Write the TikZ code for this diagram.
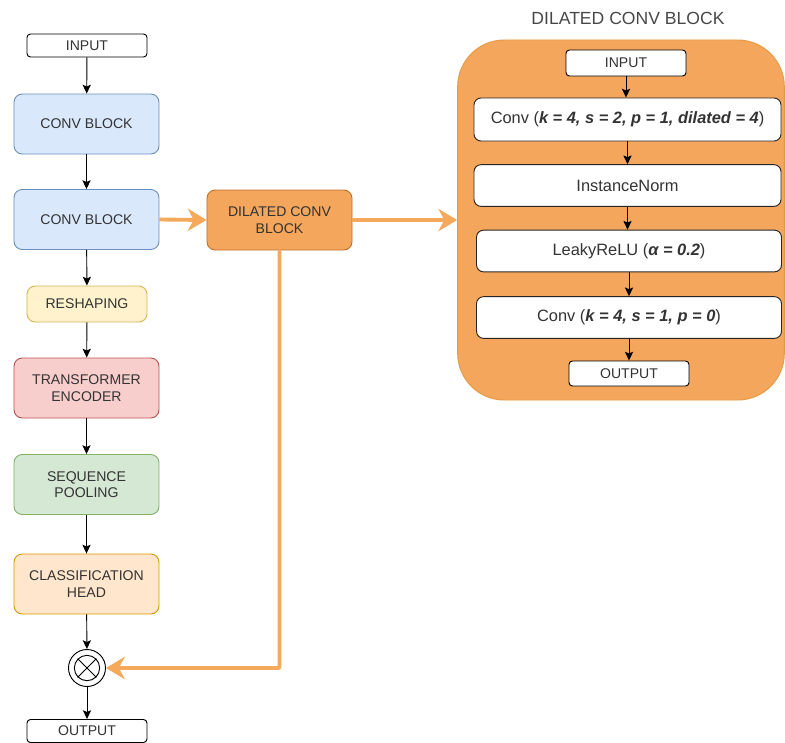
\documentclass[tikz,border=0pt]{standalone}
\usepackage{fontspec}
\setmainfont{Liberation Sans}
\usetikzlibrary{arrows.meta}

% draw.io palette
\definecolor{txt}{HTML}{333333}
\definecolor{blueF}{HTML}{DAE8FC}\definecolor{blueD}{HTML}{6C8EBF}
\definecolor{yelF}{HTML}{FFF2CC}\definecolor{yelD}{HTML}{D6B656}
\definecolor{redF}{HTML}{F8CECC}\definecolor{redD}{HTML}{B85450}
\definecolor{grnF}{HTML}{D5E8D4}\definecolor{grnD}{HTML}{82B366}
\definecolor{orgF}{HTML}{FFE6CC}\definecolor{orgD}{HTML}{D79B00}
\definecolor{dilF}{HTML}{F4A65C}\definecolor{dilD}{HTML}{C2702E}
\definecolor{boxD}{HTML}{E39B45}
\definecolor{link}{HTML}{F4A95B}

\begin{document}
\begin{tikzpicture}[x=0.03cm, y=-0.03cm,
    lbl/.style={font=\fontsize{12}{14}\selectfont, text=txt, align=center},
    inlbl/.style={font=\fontsize{14}{16}\selectfont, text=txt, align=center},
    smallbox/.style={lbl, draw=black, fill=white, rounded corners=3pt, thick,
        minimum width=3.6cm, minimum height=0.69cm, inner sep=0pt},
    block/.style={lbl, rounded corners=7pt, thick,
        minimum width=4.35cm, minimum height=1.8cm, inner sep=0pt},
    layer/.style={inlbl, draw=black!85, fill=white, rounded corners=6pt, thick,
        minimum width=9.15cm, minimum height=1.25cm, inner sep=0pt},
    flow/.style={-{Stealth[length=7.5pt,width=7pt,inset=1.5pt]}, line width=0.8pt},
    skip/.style={-{Stealth[length=16pt,width=19pt,inset=5pt]}, draw=link,
        line width=3.3pt}]

    \useasboundingbox (0,0) rectangle (785,742);

    % main branch
    \node (in)    at (87,45.5)    [smallbox] {INPUT};
    \node (conv1) at (86.5,124)   [block, fill=blueF, draw=blueD] {CONV BLOCK};
    \node (conv2) at (86.5,219.5) [block, fill=blueF, draw=blueD] {CONV BLOCK};
    \node (resh)  at (87,304)     [block, fill=yelF, draw=yelD,
        minimum width=3.6cm, minimum height=1.08cm] {RESHAPING};
    \node (trans) at (86.5,388)   [block, fill=redF, draw=redD] {TRANSFORMER\\ENCODER};
    \node (pool)  at (86.5,484.5) [block, fill=grnF, draw=grnD] {SEQUENCE\\POOLING};
    \node (head)  at (86.5,584)   [block, fill=orgF, draw=orgD] {CLASSIFICATION\\HEAD};
    \node (mul)   at (87,668)     [circle, draw=black, fill=white, thick,
        minimum size=1.11cm, inner sep=0pt] {};
    \node (x)     at (mul) [circle, draw=black, thick, minimum size=0.76cm, inner sep=0pt] {};
    \draw [thick] (x.north west) -- (x.south east) (x.north east) -- (x.south west);
    \node (out)   at (87,731)     [smallbox] {OUTPUT};

    % side branch
    \node (dil) at (279.5,220) [block, fill=dilF, draw=dilD] {DILATED CONV\\BLOCK};

    % expanded view of the dilated block
    \node (title) at (628,18) [font=\fontsize{15}{17}\selectfont, text=txt!90] {DILATED CONV BLOCK};
    \node (dilbox) at (621,220) [draw=boxD, fill=dilF, thick, rounded corners=1.4cm,
        minimum width=9.8cm, minimum height=10.8cm] {};
    \node (din)   at (626,63)    [smallbox, minimum height=0.78cm] {INPUT};
    \node (dconv) at (627.5,119.5) [layer, minimum width=9.21cm, minimum height=1.29cm]
        {Conv (\textbf{\textit{k = 4, s = 2, p = 1, dilated = 4}})};
    \node (norm)  at (627.5,185.5) [layer, minimum width=9.21cm] {InstanceNorm};
    \node (relu)  at (629,251)   [layer] {LeakyReLU (\textbf{\textit{α = 0.2}})};
    \node (conv)  at (629,317.5) [layer] {Conv (\textbf{\textit{k = 4, s = 1, p = 0}})};
    \node (dout)  at (629,373.5) [smallbox, minimum height=0.75cm] {OUTPUT};

    % arrows
    \draw [flow] (in) -- (conv1);
    \draw [flow] (conv1) -- (conv2);
    \draw [flow] (conv2) -- (resh);
    \draw [flow] (resh) -- (trans);
    \draw [flow] (trans) -- (pool);
    \draw [flow] (pool) -- (head);
    \draw [flow] (head) -- (mul);
    \draw [flow] (mul) -- (out);

    \draw [flow] (din) -- (din |- dconv.north);
    \draw [flow] (dconv) -- (dconv.south |- norm.north);
    \draw [flow] (norm) -- (norm.south |- relu.north);
    \draw [flow] (relu) -- (conv);
    \draw [flow] (conv) -- (dout);

    % orange links
    \draw [skip] (conv2.east) -- (dil.west);
    \draw [skip] (dil.east) -- (dilbox.west);
    \draw [skip, rounded corners=1pt] (dil.south) |- (mul.east);

\end{tikzpicture}
\end{document}
